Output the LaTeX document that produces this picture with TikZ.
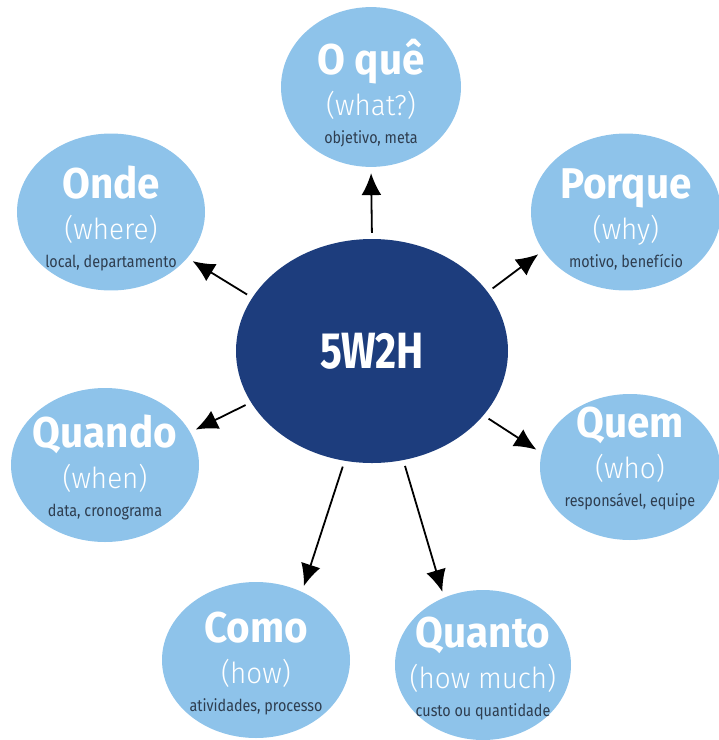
\documentclass[tikz,border=0pt]{standalone}
\usepackage{fontspec}
\setmainfont[FakeStretch=0.8]{Fira Sans}
\newfontfamily\titlefont[FakeStretch=0.94]{Fira Sans}
\newfontfamily\engfont[FakeStretch=0.96]{Fira Sans Light}
\newfontfamily\descfont[FakeStretch=0.87]{Fira Sans}
\usetikzlibrary{shapes.geometric,arrows.meta}
\definecolor{darkblue}{HTML}{1D3D7D}
\definecolor{lightblue}{HTML}{8EC3EA}
\definecolor{desctext}{HTML}{2E3D4F}
% three lines of a satellite: title, english word, description
\newcommand{\wlabel}[4][40]{\vbox{\offinterlineskip\kern#1pt
  \hbox to 0pt{\hss\smash{\color{white}\titlefont\bfseries\fontsize{43}{43}\selectfont #2}\hss}\kern41pt
  \hbox to 0pt{\hss\smash{\color{white}\engfont\fontsize{29}{29}\selectfont #3}\hss}\kern28pt
  \hbox to 0pt{\hss\smash{\color{desctext}\descfont\fontsize{16.5}{16.5}\selectfont #4}\hss}}}
\begin{document}
\begin{tikzpicture}[x=1pt, y=-1pt,
    sat/.style={ellipse, fill=lightblue, inner sep=0pt},
    hub/.style={ellipse, fill=darkblue, inner sep=0pt, text=white,
        font=\bfseries\fontsize{51}{51}\selectfont},
    link/.style={-{Latex[length=22pt,width=20pt]}, line width=1.8pt,
        shorten <=6pt, shorten >=6pt}]
\useasboundingbox (0,0) rectangle (719,740);

\node[hub, minimum width=272pt, minimum height=224pt] (c) at (372,351) {5W2H};

\node[sat, minimum width=180pt, minimum height=154pt] (oque) at (371,87) {\wlabel[44]{O quê}{(what?)}{objetivo, meta}};
\node[sat, minimum width=188pt, minimum height=146pt] (onde) at (111,212) {\wlabel[42]{Onde}{(where)}{local, departamento}};
\node[sat, minimum width=190pt, minimum height=152pt] (porque) at (626,212) {\wlabel[42]{Porque}{(why)}{motivo, benefício}};
\node[sat, minimum width=188pt, minimum height=154pt] (quando) at (105,465) {\wlabel[33]{Quando}{(when)}{data, cronograma}};
\node[sat, minimum width=180pt, minimum height=146pt] (quem) at (630,467) {\wlabel[10]{Quem}{(who)}{responsável, equipe}};
\node[sat, minimum width=188pt, minimum height=156pt] (como) at (256,660) {\wlabel[34]{Como}{(how)}{atividades, processo}};
\node[sat, minimum width=176pt, minimum height=150pt] (quanto) at (483,665) {\wlabel[34]{Quanto}{(how much)}{custo ou quantidade}};

\draw[link] (c.90) -- (oque.270);
\draw[link] (c.156) -- (onde.329);
\draw[link] (c.27) -- (porque.205);
\draw[link] (c.203) -- (quando.21);
\draw[link] (c.330) -- (quem.171);
\draw[link] (c.256) -- (como.56);
\draw[link] (c.286) -- (quanto.120);
\end{tikzpicture}
\end{document}
